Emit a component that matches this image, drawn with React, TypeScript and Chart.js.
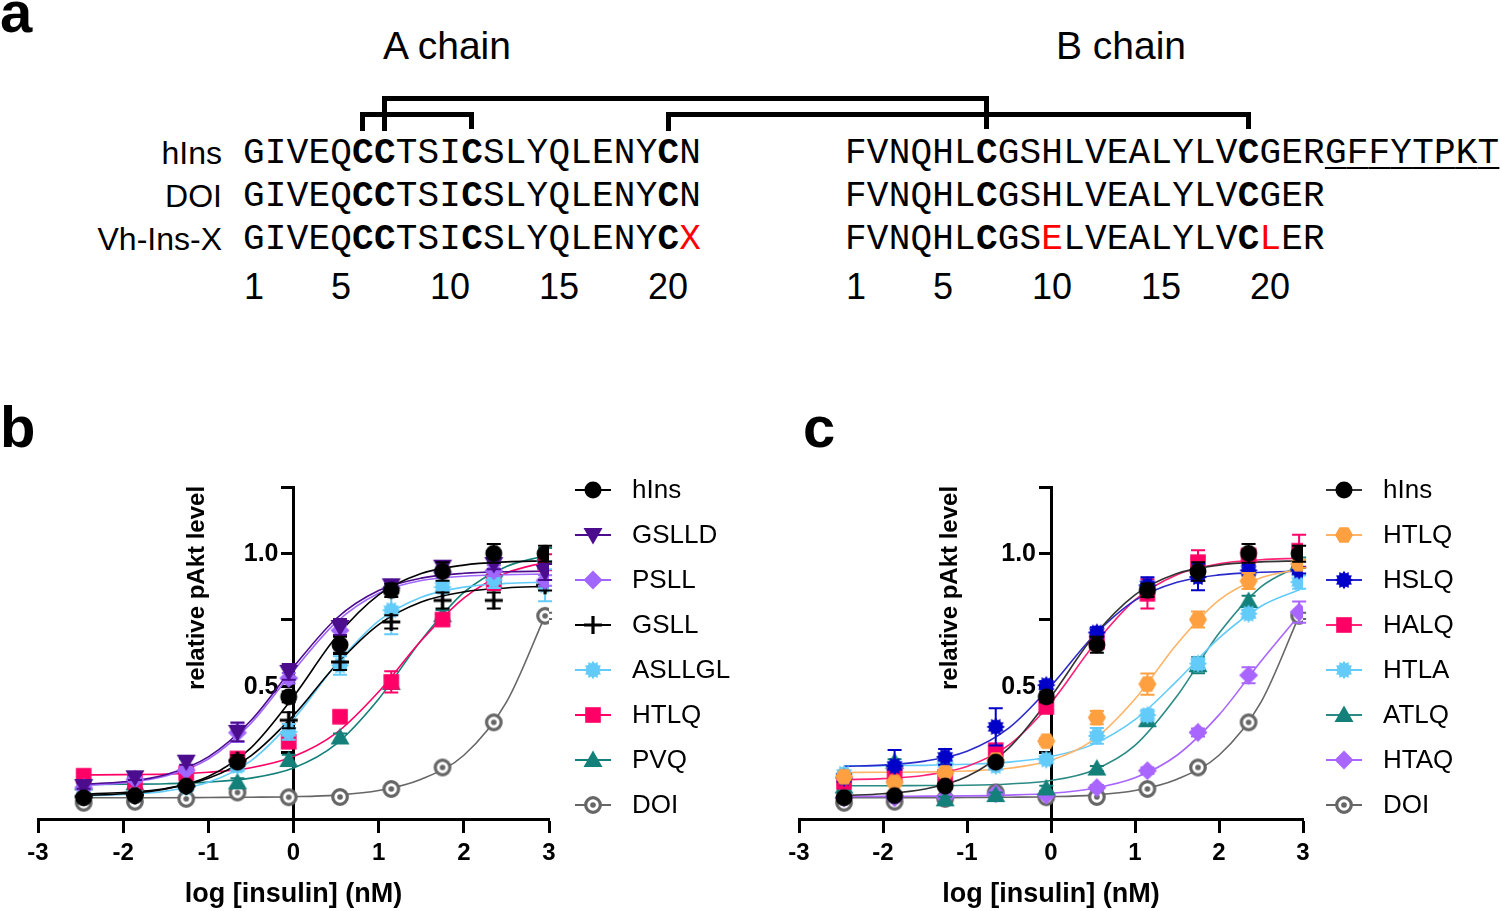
import React, { useEffect, useRef } from "react";
import { Chart, registerables } from "chart.js";

Chart.register(...registerables);
Chart.defaults.font.family = "'Liberation Sans', Arial, sans-serif";
Chart.defaults.color = "#000";

// ---------------- data ----------------
// log10 of insulin dose (nM) for the measured points
const LOG_DOSE = [-2.464, -1.862, -1.26, -0.658, -0.056, 0.546, 1.148, 1.75, 2.352, 2.954];
const FIT_X = [-2.464, -2, -1.5, -1, -0.5, 0, 0.5, 1, 1.5, 2, 2.5, 2.954];

const X_TICKS = [-3, -2, -1, 0, 1, 2, 3];
const Y_TICKS = [0, 0.25, 0.5, 0.75, 1, 1.25];
const Y_TICK_LABELS = ["", "", "0.5", "", "1.0", ""];
const X_TITLE = "log [insulin] (nM)";
const Y_TITLE = "relative pAkt level";

// shared series
const HINS = [0.08, 0.088, 0.124, 0.214, 0.46, 0.656, 0.861, 0.932, 1.0, 0.999];
const HINS_ERR = [0.01, 0.01, 0.01, 0.015, 0.02, 0.03, 0.025, 0.035, 0.035, 0.03];
const HINS_FIT = [0.089, 0.095, 0.113, 0.16, 0.268, 0.461, 0.685, 0.844, 0.924, 0.956, 0.968, 0.972];

const DOI = [0.061, 0.065, 0.076, 0.1, 0.082, 0.083, 0.113, 0.194, 0.364, 0.765];
const DOI_ERR = [0.008, 0.008, 0.008, 0.01, 0.008, 0.008, 0.01, 0.01, 0.012, 0.012];
const DOI_FIT = [0.08, 0.08, 0.08, 0.081, 0.082, 0.084, 0.09, 0.107, 0.15, 0.24, 0.44, 0.765];

// panel b
const GSLLD = [0.124, 0.157, 0.216, 0.328, 0.554, 0.723, 0.88, 0.95, 0.96, 0.93];
const GSLLD_ERR = [0.01, 0.01, 0.012, 0.035, 0.03, 0.03, 0.015, 0.02, 0.02, 0.03];
const GSLLD_FIT = [0.131, 0.14, 0.167, 0.234, 0.371, 0.572, 0.754, 0.86, 0.907, 0.925, 0.931, 0.933];

const PSLL = [0.118, 0.149, 0.184, 0.325, 0.53, 0.71, 0.87, 0.93, 0.935, 0.898];
const PSLL_ERR = [0.01, 0.01, 0.01, 0.035, 0.02, 0.02, 0.015, 0.02, 0.02, 0.02];
const PSLL_FIT = [0.127, 0.136, 0.162, 0.226, 0.36, 0.558, 0.74, 0.85, 0.898, 0.914, 0.92, 0.922];

const GSLL = [0.085, 0.09, 0.125, 0.22, 0.372, 0.591, 0.742, 0.823, 0.823, 0.88];
const GSLL_ERR = [0.01, 0.01, 0.01, 0.02, 0.03, 0.03, 0.025, 0.03, 0.03, 0.02];
const GSLL_FIT = [0.094, 0.1, 0.115, 0.153, 0.238, 0.39, 0.58, 0.732, 0.817, 0.855, 0.87, 0.876];

const ASLLGL = [0.085, 0.09, 0.12, 0.2, 0.328, 0.578, 0.786, 0.873, 0.9, 0.88];
const ASLLGL_ERR = [0.01, 0.01, 0.01, 0.02, 0.03, 0.035, 0.09, 0.02, 0.03, 0.06];
const ASLLGL_FIT = [0.088, 0.092, 0.105, 0.138, 0.219, 0.376, 0.581, 0.746, 0.835, 0.873, 0.887, 0.892];

const HTLQ_B = [0.163, 0.138, 0.172, 0.228, 0.291, 0.385, 0.516, 0.751, 0.892, 0.967];
const HTLQ_B_ERR = [0.01, 0.01, 0.01, 0.015, 0.02, 0.015, 0.04, 0.02, 0.03, 0.03];
const HTLQ_B_FIT = [0.166, 0.167, 0.169, 0.176, 0.193, 0.235, 0.323, 0.479, 0.672, 0.832, 0.926, 0.967];

const PVQ = [0.134, 0.134, 0.145, 0.138, 0.222, 0.307, 0.512, 0.767, 0.936, 0.995];
const PVQ_ERR = [0.01, 0.01, 0.01, 0.015, 0.02, 0.015, 0.02, 0.02, 0.025, 0.025];
const PVQ_FIT = [0.13, 0.131, 0.133, 0.139, 0.154, 0.192, 0.282, 0.452, 0.673, 0.853, 0.951, 0.991];

// panel c
const HTLQ_C = [0.159, 0.138, 0.174, 0.222, 0.293, 0.382, 0.508, 0.751, 0.896, 0.961];
const HTLQ_C_ERR = [0.01, 0.01, 0.01, 0.01, 0.012, 0.025, 0.04, 0.03, 0.03, 0.015];
const HTLQ_C_FIT = [0.175, 0.176, 0.177, 0.181, 0.191, 0.221, 0.297, 0.452, 0.659, 0.824, 0.908, 0.94];

const HSLQ = [0.155, 0.2, 0.234, 0.347, 0.504, 0.702, 0.88, 0.911, 0.936, 0.936];
const HSLQ_ERR = [0.01, 0.06, 0.03, 0.07, 0.015, 0.02, 0.03, 0.05, 0.02, 0.012];
const HSLQ_FIT = [0.198, 0.203, 0.218, 0.255, 0.343, 0.501, 0.687, 0.823, 0.891, 0.919, 0.929, 0.933];

const HALQ = [0.14, 0.165, 0.159, 0.259, 0.422, 0.667, 0.848, 0.967, 0.992, 1.01];
const HALQ_ERR = [0.01, 0.02, 0.02, 0.015, 0.015, 0.02, 0.055, 0.045, 0.02, 0.06];
const HALQ_FIT = [0.148, 0.152, 0.165, 0.198, 0.279, 0.438, 0.651, 0.825, 0.92, 0.961, 0.976, 0.982];

const HTLA = [0.17, 0.19, 0.21, 0.2, 0.224, 0.313, 0.391, 0.585, 0.773, 0.892];
const HTLA_ERR = [0.01, 0.01, 0.01, 0.01, 0.01, 0.03, 0.02, 0.02, 0.015, 0.025];
const HTLA_FIT = [0.2, 0.201, 0.202, 0.206, 0.214, 0.235, 0.281, 0.374, 0.52, 0.681, 0.801, 0.863];

const ATLQ = [0.122, 0.215, 0.074, 0.09, 0.115, 0.19, 0.372, 0.579, 0.821, 0.965];
const ATLQ_ERR = [0.01, 0.01, 0.01, 0.01, 0.01, 0.01, 0.02, 0.03, 0.02, 0.02];
const ATLQ_FIT = [0.125, 0.125, 0.126, 0.127, 0.132, 0.145, 0.183, 0.277, 0.463, 0.699, 0.874, 0.954];

const HTAQ = [0.08, 0.08, 0.082, 0.096, 0.09, 0.118, 0.182, 0.326, 0.541, 0.779];
const HTAQ_ERR = [0.008, 0.008, 0.008, 0.01, 0.01, 0.01, 0.012, 0.015, 0.03, 0.04];
const HTAQ_FIT = [0.085, 0.085, 0.086, 0.087, 0.09, 0.097, 0.115, 0.155, 0.24, 0.392, 0.594, 0.767];

// panel a (sequences)
const ROW_LABELS = ["hIns", "DOI", "Vh-Ins-X"];
const A_SEQS = ["GIVEQCCTSICSLYQLENYCN", "GIVEQCCTSICSLYQLENYCN", "GIVEQCCTSICSLYQLENYCX"];
const B_SEQS = ["FVNQHLCGSHLVEALYLVCGERGFFYTPKT", "FVNQHLCGSHLVEALYLVCGER", "FVNQHLCGSELVEALYLVCLER"];
const A_CYS = [6, 7, 11, 20];
const B_CYS = [7, 19];
const A_RED = [[], [], [21]];
const B_RED = [[], [], [10, 20]];
const B_UNDERLINE_FROM = [23, 0, 0];
const POS_NUMBERS = [1, 5, 10, 15, 20];
// disulfide bonds: [chain, residue] -> [chain, residue], level 0 = upper bar
const BONDS: [string, number, string, number, number][] = [
  ["A", 6, "A", 11, 1],
  ["A", 7, "B", 7, 0],
  ["A", 20, "B", 19, 1],
];

// ---------------- styling / layout ----------------
type Series = { label: string; values: number[]; errors: number[]; fit: number[]; shape: string; color: string; line: string };

const SERIES_B: Series[] = [
  { label: "hIns", values: HINS, errors: HINS_ERR, fit: HINS_FIT, shape: "circle", color: "#000000", line: "#000000" },
  { label: "GSLLD", values: GSLLD, errors: GSLLD_ERR, fit: GSLLD_FIT, shape: "triDown", color: "#4B0C8E", line: "#4B0C8E" },
  { label: "PSLL", values: PSLL, errors: PSLL_ERR, fit: PSLL_FIT, shape: "diamond", color: "#A066FF", line: "#A066FF" },
  { label: "GSLL", values: GSLL, errors: GSLL_ERR, fit: GSLL_FIT, shape: "plus", color: "#000000", line: "#000000" },
  { label: "ASLLGL", values: ASLLGL, errors: ASLLGL_ERR, fit: ASLLGL_FIT, shape: "star", color: "#62CBFA", line: "#62CBFA" },
  { label: "HTLQ", values: HTLQ_B, errors: HTLQ_B_ERR, fit: HTLQ_B_FIT, shape: "square", color: "#FF0066", line: "#FF0066" },
  { label: "PVQ", values: PVQ, errors: PVQ_ERR, fit: PVQ_FIT, shape: "triUp", color: "#14807A", line: "#14807A" },
  { label: "DOI", values: DOI, errors: DOI_ERR, fit: DOI_FIT, shape: "ring", color: "#666666", line: "#666666" },
];

const SERIES_C: Series[] = [
  { label: "hIns", values: HINS, errors: HINS_ERR, fit: HINS_FIT, shape: "circle", color: "#000000", line: "#333333" },
  { label: "HTLQ", values: HTLQ_C, errors: HTLQ_C_ERR, fit: HTLQ_C_FIT, shape: "hexagon", color: "#FFA040", line: "#FFB466" },
  { label: "HSLQ", values: HSLQ, errors: HSLQ_ERR, fit: HSLQ_FIT, shape: "star", color: "#0000C8", line: "#2A2ACC" },
  { label: "HALQ", values: HALQ, errors: HALQ_ERR, fit: HALQ_FIT, shape: "square", color: "#FF0066", line: "#FF2277" },
  { label: "HTLA", values: HTLA, errors: HTLA_ERR, fit: HTLA_FIT, shape: "star", color: "#62CBFA", line: "#62CBFA" },
  { label: "ATLQ", values: ATLQ, errors: ATLQ_ERR, fit: ATLQ_FIT, shape: "triUp", color: "#14807A", line: "#2A8A84" },
  { label: "HTAQ", values: HTAQ, errors: HTAQ_ERR, fit: HTAQ_FIT, shape: "diamond", color: "#A966FF", line: "#A966FF" },
  { label: "DOI", values: DOI, errors: DOI_ERR, fit: DOI_FIT, shape: "ring", color: "#666666", line: "#666666" },
];

function makeMarker(shape: string, color: string): HTMLCanvasElement {
  const size = 26;
  const c = document.createElement("canvas");
  c.width = size;
  c.height = size;
  const g = c.getContext("2d") as CanvasRenderingContext2D;
  const m = size / 2;
  g.fillStyle = color;
  g.strokeStyle = color;
  const poly = (pts: number[][]) => {
    g.beginPath();
    pts.forEach((p, i) => (i ? g.lineTo(m + p[0], m + p[1]) : g.moveTo(m + p[0], m + p[1])));
    g.closePath();
    g.fill();
  };
  if (shape === "circle") {
    g.beginPath();
    g.arc(m, m, 8.5, 0, Math.PI * 2);
    g.fill();
  } else if (shape === "square") {
    g.fillRect(m - 7.8, m - 7.8, 15.6, 15.6);
  } else if (shape === "triUp") {
    poly([[0, -9.5], [9.5, 7], [-9.5, 7]]);
  } else if (shape === "triDown") {
    poly([[0, 9.5], [9.5, -7], [-9.5, -7]]);
  } else if (shape === "diamond") {
    poly([[0, -9.5], [9.5, 0], [0, 9.5], [-9.5, 0]]);
  } else if (shape === "hexagon") {
    const pts: number[][] = [];
    for (let k = 0; k < 6; k++) {
      const a = (k * Math.PI) / 3;
      pts.push([9 * Math.cos(a), 9 * Math.sin(a)]);
    }
    poly(pts);
  } else if (shape === "star") {
    const pts: number[][] = [];
    const n = 12;
    for (let k = 0; k < n * 2; k++) {
      const r = k % 2 === 0 ? 9.2 : 6.8;
      const a = (k * Math.PI) / n;
      pts.push([r * Math.cos(a), r * Math.sin(a)]);
    }
    poly(pts);
  } else if (shape === "plus") {
    g.lineWidth = 3.2;
    g.beginPath();
    g.moveTo(m - 9, m);
    g.lineTo(m + 9, m);
    g.moveTo(m, m - 9);
    g.lineTo(m, m + 9);
    g.stroke();
  } else if (shape === "ring") {
    g.beginPath();
    g.arc(m, m, 7.3, 0, Math.PI * 2);
    g.fillStyle = "#ffffff";
    g.fill();
    g.lineWidth = 3.2;
    g.stroke();
    g.beginPath();
    g.arc(m, m, 2.8, 0, Math.PI * 2);
    g.fillStyle = color;
    g.fill();
  }
  return c;
}

type PanelProps = {
  left: number;
  top: number;
  width: number;
  height: number;
  padLeft: number;
  padRight: number;
  series: Series[];
  legendX0: number;
  legendX1: number;
  legendTextX: number;
  yTitleOffset: number;
};

const CHART_TOP_PAD = 87;
const X_AXIS_HEIGHT = 92;
const LEGEND_Y0 = 90;
const LEGEND_DY = 45;
const Y_TITLE_Y = 188;
const Y_LABEL_GAP = 15;

function DoseChart(p: PanelProps) {
  const ref = useRef<HTMLCanvasElement | null>(null);
  useEffect(() => {
    const canvas = ref.current;
    if (!canvas) return;
    const markers = p.series.map((s) => makeMarker(s.shape, s.color));
    const n = p.series.length;
    const pointSets: any[] = p.series.map((s, i) => ({
      type: "scatter",
      label: s.label,
      data: LOG_DOSE.map((x, j) => ({ x, y: s.values[j] })),
      errors: s.errors,
      pointStyle: markers[i],
      pointRadius: 8,
      pointHoverRadius: 8,
      backgroundColor: s.color,
      borderColor: s.color,
      showLine: false,
      order: 1,
    }));
    const fitSets: any[] = p.series.map((s) => ({
      type: "line",
      label: s.label + " fit",
      data: FIT_X.map((x, j) => ({ x, y: s.fit[j] })),
      borderColor: s.line,
      borderWidth: 1.6,
      pointRadius: 0,
      fill: false,
      cubicInterpolationMode: "monotone",
      order: 2,
    }));

    const errorBars = {
      id: "errorBars",
      beforeDatasetDraw(chart: any, args: any) {
        const i = args.index;
        if (i >= n) return;
        const ds = chart.data.datasets[i];
        const meta = chart.getDatasetMeta(i);
        const ys = chart.scales.y;
        const ctx = chart.ctx;
        ctx.save();
        ctx.strokeStyle = p.series[i].color;
        ctx.lineWidth = 2;
        meta.data.forEach((pt: any, j: number) => {
          const v = ds.data[j].y;
          const e = ds.errors[j];
          const yt = ys.getPixelForValue(v + e);
          const yb = ys.getPixelForValue(v - e);
          ctx.beginPath();
          ctx.moveTo(pt.x, yt);
          ctx.lineTo(pt.x, yb);
          ctx.moveTo(pt.x - 7, yt);
          ctx.lineTo(pt.x + 7, yt);
          ctx.moveTo(pt.x - 7, yb);
          ctx.lineTo(pt.x + 7, yb);
          ctx.stroke();
        });
        ctx.restore();
      },
    };

    // y tick labels drawn beside the centred y axis (under the data)
    const yLabels = {
      id: "yLabels",
      beforeDatasetsDraw(chart: any) {
        const ctx = chart.ctx;
        const ax = chart.scales.x.getPixelForValue(0);
        const ys = chart.scales.y;
        ctx.save();
        ctx.fillStyle = "#000";
        ctx.font = "bold 25px 'Liberation Sans', Arial, sans-serif";
        ctx.textAlign = "right";
        ctx.textBaseline = "middle";
        Y_TICKS.forEach((v, i) => {
          if (Y_TICK_LABELS[i]) ctx.fillText(Y_TICK_LABELS[i], ax - Y_LABEL_GAP, ys.getPixelForValue(v) + 1);
        });
        ctx.restore();
      },
    };

    const decor = {
      id: "decor",
      afterDraw(chart: any) {
        const ctx = chart.ctx;
        ctx.save();
        // legend
        p.series.forEach((s, i) => {
          const y = LEGEND_Y0 + i * LEGEND_DY;
          ctx.strokeStyle = s.line;
          ctx.lineWidth = 2;
          ctx.beginPath();
          ctx.moveTo(p.legendX0, y);
          ctx.lineTo(p.legendX1, y);
          ctx.stroke();
          const mk = markers[i];
          ctx.drawImage(mk, (p.legendX0 + p.legendX1) / 2 - mk.width / 2, y - mk.height / 2);
          ctx.fillStyle = "#000";
          ctx.font = "26px 'Liberation Sans', Arial, sans-serif";
          ctx.textAlign = "left";
          ctx.textBaseline = "middle";
          ctx.fillText(s.label, p.legendTextX, y + 1);
        });
        // y title
        const ax = chart.scales.x.getPixelForValue(0);
        ctx.translate(ax - p.yTitleOffset, Y_TITLE_Y);
        ctx.rotate(-Math.PI / 2);
        ctx.font = "bold 24px 'Liberation Sans', Arial, sans-serif";
        ctx.textAlign = "center";
        ctx.textBaseline = "middle";
        ctx.fillText(Y_TITLE, 0, 0);
        ctx.restore();
      },
    };

    const chart = new Chart(canvas, {
      type: "scatter",
      data: { datasets: [...pointSets, ...fitSets] },
      options: {
        responsive: false,
        animation: false,
        devicePixelRatio: 1,
        events: [],
        layout: { padding: { left: p.padLeft, right: p.padRight, top: CHART_TOP_PAD, bottom: 0 } },
        plugins: { legend: { display: false }, tooltip: { enabled: false } },
        scales: {
          x: {
            type: "linear",
            position: "bottom",
            min: X_TICKS[0],
            max: X_TICKS[X_TICKS.length - 1],
            afterBuildTicks: (s: any) => {
              s.ticks = X_TICKS.map((v) => ({ value: v }));
            },
            afterFit: (s: any) => {
              s.height = X_AXIS_HEIGHT;
            },
            ticks: { font: { size: 24, weight: "bold" }, color: "#000", padding: 6, maxRotation: 0 },
            grid: { drawOnChartArea: false, drawTicks: true, tickLength: 14, tickWidth: 3, tickColor: "#000" },
            border: { display: true, width: 3, color: "#000" },
            title: {
              display: true,
              text: X_TITLE,
              font: { size: 27, weight: "bold" },
              color: "#000",
              padding: { top: 0, bottom: 0 },
            },
          },
          y: {
            type: "linear",
            position: { x: 0 },
            min: Y_TICKS[0],
            max: Y_TICKS[Y_TICKS.length - 1],
            afterBuildTicks: (s: any) => {
              s.ticks = Y_TICKS.map((v) => ({ value: v }));
            },
            afterFit: (s: any) => {
              s.width = 0;
            },
            ticks: { display: false, autoSkip: false },
            grid: { drawOnChartArea: false, drawTicks: true, tickLength: 11, tickWidth: 3, tickColor: "#000" },
            border: { display: true, width: 3, color: "#000" },
          },
        },
      } as any,
      plugins: [errorBars, yLabels, decor],
    } as any);
    return () => chart.destroy();
  }, []);
  return (
    <canvas
      ref={ref}
      width={p.width}
      height={p.height}
      style={{ position: "absolute", left: p.left, top: p.top, width: p.width, height: p.height }}
    />
  );
}

// ---------------- panel a ----------------
const SANS = "'Liberation Sans', Arial, sans-serif";
const MONO = "'Liberation Mono', 'DejaVu Sans Mono', monospace";
const CHAR_W = 21.8;
const A_LEFT = 243;
const B_LEFT = 845;
const ROW_TOPS = [136, 179, 222];
const BAR_Y = [98, 114];
const LEG_BOTTOM = 131;
const BAR_T = 5;

function resX(chain: string, i: number) {
  return (chain === "A" ? A_LEFT : B_LEFT) + (i - 0.5) * CHAR_W;
}

function SeqRow(props: { seq: string; left: number; top: number; cys: number[]; red: number[]; underlineFrom: number }) {
  return (
    <div
      style={{
        position: "absolute",
        left: props.left,
        top: props.top,
        fontFamily: MONO,
        fontSize: 36,
        lineHeight: "36px",
        letterSpacing: "0.2px",
        whiteSpace: "pre",
        color: "#000",
      }}
    >
      {props.seq.split("").map((ch, i) => {
        const pos = i + 1;
        const st: any = {};
        if (props.cys.includes(pos)) st.fontWeight = "bold";
        if (props.red.includes(pos)) st.color = "#FF0000";
        if (props.underlineFrom && pos >= props.underlineFrom) {
          st.textDecoration = "underline";
          st.textDecorationThickness = "2px";
          st.textUnderlineOffset = "4px";
        }
        return (
          <span key={i} style={st}>
            {ch}
          </span>
        );
      })}
    </div>
  );
}

function PanelA() {
  const bars: any[] = [];
  BONDS.forEach(([c1, r1, c2, r2, lvl], k) => {
    const x1 = resX(c1, r1);
    const x2 = resX(c2, r2);
    const y = BAR_Y[lvl];
    bars.push(
      <div key={"h" + k} style={{ position: "absolute", left: x1 - BAR_T / 2, top: y - BAR_T / 2, width: x2 - x1 + BAR_T, height: BAR_T, background: "#000" }} />
    );
    bars.push(
      <div key={"l" + k} style={{ position: "absolute", left: x1 - BAR_T / 2, top: y - BAR_T / 2, width: BAR_T, height: LEG_BOTTOM - y + BAR_T / 2, background: "#000" }} />
    );
    bars.push(
      <div key={"r" + k} style={{ position: "absolute", left: x2 - BAR_T / 2, top: y - BAR_T / 2, width: BAR_T, height: LEG_BOTTOM - y + BAR_T / 2 - 2, background: "#000" }} />
    );
  });
  return (
    <>
      <div style={{ position: "absolute", left: 447, top: 26, transform: "translateX(-50%)", fontFamily: SANS, fontSize: 39, lineHeight: "39px", whiteSpace: "nowrap" }}>
        A chain
      </div>
      <div style={{ position: "absolute", left: 1121, top: 26, transform: "translateX(-50%)", fontFamily: SANS, fontSize: 39, lineHeight: "39px", whiteSpace: "nowrap" }}>
        B chain
      </div>
      {bars}
      {ROW_LABELS.map((lab, r) => (
        <div
          key={"lab" + r}
          style={{ position: "absolute", left: 0, width: 222, top: ROW_TOPS[r] + 0.5, textAlign: "right", fontFamily: SANS, fontSize: 32, lineHeight: "32px", whiteSpace: "nowrap" }}
        >
          {lab}
        </div>
      ))}
      {A_SEQS.map((s, r) => (
        <SeqRow key={"a" + r} seq={s} left={A_LEFT} top={ROW_TOPS[r]} cys={A_CYS} red={A_RED[r]} underlineFrom={0} />
      ))}
      {B_SEQS.map((s, r) => (
        <SeqRow key={"b" + r} seq={s} left={B_LEFT} top={ROW_TOPS[r]} cys={B_CYS} red={B_RED[r]} underlineFrom={B_UNDERLINE_FROM[r]} />
      ))}
      {["A", "B"].map((ch) =>
        POS_NUMBERS.map((nm) => (
          <div
            key={ch + nm}
            style={{ position: "absolute", left: resX(ch, nm), top: 269, transform: "translateX(-50%)", fontFamily: SANS, fontSize: 36, lineHeight: "36px" }}
          >
            {nm}
          </div>
        ))
      )}
    </>
  );
}

const panelLabel = (t: string, left: number, top: number) => (
  <div style={{ position: "absolute", left, top, fontFamily: SANS, fontWeight: "bold", fontSize: 58, lineHeight: "58px" }}>{t}</div>
);

export default function App() {
  return (
    <div style={{ position: "absolute", left: 0, top: 0, width: 1500, height: 911, background: "#fff", overflow: "hidden", color: "#000" }}>
      {panelLabel("a", 0, -17)}
      {panelLabel("b", 0, 398)}
      {panelLabel("c", 803, 398)}
      <PanelA />
      <DoseChart
        left={0}
        top={400}
        width={770}
        height={511}
        padLeft={38}
        padRight={221}
        series={SERIES_B}
        legendX0={575}
        legendX1={611}
        legendTextX={632}
        yTitleOffset={96}
      />
      <DoseChart
        left={760}
        top={400}
        width={740}
        height={511}
        padLeft={39}
        padRight={197}
        series={SERIES_C}
        legendX0={566}
        legendX1={602}
        legendTextX={623}
        yTitleOffset={101}
      />
    </div>
  );
}
